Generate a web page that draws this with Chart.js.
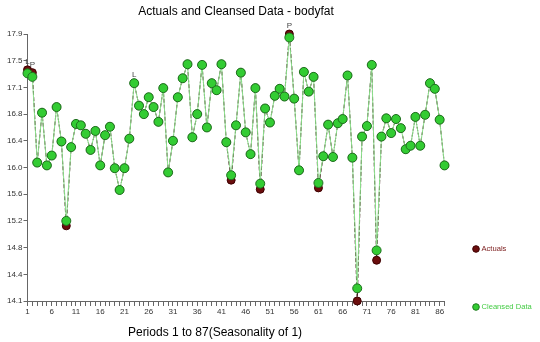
<!DOCTYPE html>
<html>
<head>
<meta charset="utf-8">
<script src="https://cdn.jsdelivr.net/npm/chart.js@4.4.1/dist/chart.umd.min.js"></script>
<style>
  html, body { margin: 0; padding: 0; background: #fff; }
</style>
</head>
<body>
<canvas id="myChart" width="540" height="342"></canvas>
<script>
// periods 1..87
const periods = ['1','2','3','4','5','6','7','8','9','10','11','12','13','14','15','16','17','18','19','20',
  '21','22','23','24','25','26','27','28','29','30','31','32','33','34','35','36','37','38','39','40',
  '41','42','43','44','45','46','47','48','49','50','51','52','53','54','55','56','57','58','59','60',
  '61','62','63','64','65','66','67','68','69','70','71','72','73','74','75','76','77','78','79','80',
  '81','82','83','84','85','86','87'];

const cleansed = [17.34, 17.29, 16.07, 16.78, 16.03, 16.17, 16.86, 16.37, 15.24, 16.29,
  16.62, 16.60, 16.48, 16.25, 16.52, 16.03, 16.46, 16.58, 15.99, 15.68,
  15.99, 16.41, 17.20, 16.88, 16.76, 17.00, 16.86, 16.65, 17.13, 15.93,
  16.38, 17.00, 17.27, 17.47, 16.43, 16.76, 17.46, 16.57, 17.20, 17.10,
  17.47, 16.36, 15.89, 16.60, 17.35, 16.50, 16.19, 17.13, 15.77, 16.84,
  16.64, 17.02, 17.12, 17.01, 17.85, 16.98, 15.96, 17.36, 17.08, 17.29,
  15.78, 16.16, 16.61, 16.15, 16.63, 16.69, 17.31, 16.14, 14.28, 16.44,
  16.59, 17.46, 14.82, 16.44, 16.70, 16.49, 16.69, 16.56, 16.26, 16.31,
  16.72, 16.31, 16.75, 17.20, 17.12, 16.68, 16.03];

const actuals = [17.39, 17.35, 16.07, 16.78, 16.03, 16.17, 16.86, 16.37, 15.17, 16.29,
  16.62, 16.60, 16.48, 16.25, 16.52, 16.03, 16.46, 16.58, 15.99, 15.68,
  15.99, 16.41, 17.20, 16.88, 16.76, 17.00, 16.86, 16.65, 17.13, 15.93,
  16.38, 17.00, 17.27, 17.47, 16.43, 16.76, 17.46, 16.57, 17.20, 17.10,
  17.47, 16.36, 15.82, 16.60, 17.35, 16.50, 16.19, 17.13, 15.69, 16.84,
  16.64, 17.02, 17.12, 17.01, 17.90, 16.98, 15.96, 17.36, 17.08, 17.29,
  15.71, 16.16, 16.61, 16.15, 16.63, 16.69, 17.31, 16.14, 14.10, 16.44,
  16.59, 17.46, 14.68, 16.44, 16.70, 16.49, 16.69, 16.56, 16.26, 16.31,
  16.72, 16.31, 16.75, 17.20, 17.12, 16.68, 16.03];

// y axis: 11 evenly spaced ticks, labels as printed on the original
const yMin = 14.1, yMax = 17.9;
const yTickLabels = ['14.1','14.4','14.8','15.2','15.6','16.0','16.4','16.8','17.1','17.5','17.9'];

// outlier tags above points
const markPeriods = [1, 2, 23, 55];
const markTags = ['L', 'P', 'L', 'P'];

const FONT = '"Liberation Sans", Arial, sans-serif';

const extras = {
  id: 'extras',
  afterDatasetsDraw(chart) {
    const ctx = chart.ctx;
    const xs = chart.scales.x, ys = chart.scales.y;
    ctx.save();
    // tags
    ctx.font = '8px ' + FONT;
    ctx.fillStyle = '#444';
    ctx.textAlign = 'center';
    ctx.textBaseline = 'bottom';
    markPeriods.forEach((p, k) => {
      const i = p - 1;
      const top = Math.min(ys.getPixelForValue(actuals[i]), ys.getPixelForValue(cleansed[i]));
      ctx.fillText(markTags[k], xs.getPixelForValue(i), top - 4);
    });

    // legend on the right
    const items = [
      { text: 'Actuals', fill: '#6b0d0d', stroke: '#3d0000', color: '#7a1a1a', y: 249 },
      { text: 'Cleansed Data', fill: '#33cc33', stroke: '#1f7a1f', color: '#44cc44', y: 307 }
    ];
    ctx.font = '7.6px ' + FONT;
    ctx.textAlign = 'left';
    ctx.textBaseline = 'middle';
    items.forEach(it => {
      ctx.beginPath();
      ctx.arc(476, it.y, 3.3, 0, Math.PI * 2);
      ctx.fillStyle = it.fill;
      ctx.fill();
      ctx.strokeStyle = it.stroke;
      ctx.lineWidth = 1;
      ctx.stroke();
      ctx.fillStyle = it.color;
      ctx.fillText(it.text, 481.5, it.y);
    });

    // x axis title
    ctx.font = '12px ' + FONT;
    ctx.fillStyle = '#000';
    ctx.textAlign = 'center';
    ctx.fillText('Periods 1 to 87(Seasonality of 1)', 215, 332.5);
    ctx.restore();
  }
};

new Chart(document.getElementById('myChart'), {
  type: 'line',
  data: {
    labels: periods,
    datasets: [
      {
        label: 'Cleansed Data',
        data: cleansed,
        order: 0,
        clip: false,
        borderColor: '#8ce08c',
        borderWidth: 1,
        pointRadius: 4.5,
        pointBackgroundColor: '#33cc33',
        pointBorderColor: '#1f6f1f',
        pointBorderWidth: 1,
        tension: 0
      },
      {
        label: 'Actuals',
        data: actuals,
        order: 1,
        clip: false,
        borderColor: '#3a1010',
        borderDash: [4, 2],
        borderWidth: 1,
        pointRadius: 4,
        pointBackgroundColor: '#6b0d0d',
        pointBorderColor: '#3d0000',
        pointBorderWidth: 1,
        tension: 0
      }
    ]
  },
  options: {
    responsive: false,
    animation: false,
    devicePixelRatio: 1,
    layout: { padding: { left: 0, right: 95.5, top: 0, bottom: 0 } },
    plugins: {
      legend: { display: false },
      tooltip: { enabled: false },
      title: {
        display: true,
        fullSize: false,
        text: 'Actuals and Cleansed Data - bodyfat',
        color: '#000',
        font: { family: FONT, size: 12, weight: 'normal' },
        padding: { top: 4, bottom: 15.6 }
      }
    },
    scales: {
      x: {
        type: 'category',
        offset: false,
        border: { display: true, color: '#666', width: 1 },
        grid: { drawOnChartArea: false, drawTicks: true, tickLength: 5, color: '#666' },
        ticks: {
          autoSkip: false,
          maxRotation: 0,
          padding: 1,
          color: '#333',
          font: { family: FONT, size: 8 },
          callback: (v, i) => (i % 5 === 0 ? periods[i] : '')
        },
        afterFit: s => { s.height = 41; }
      },
      y: {
        min: yMin,
        max: yMax,
        border: { display: true, color: '#666', width: 1 },
        grid: { drawOnChartArea: false, drawTicks: true, tickLength: 4, color: '#666' },
        afterBuildTicks: s => {
          s.ticks = yTickLabels.map((t, i) => ({ value: yMin + (yMax - yMin) * i / (yTickLabels.length - 1) }));
        },
        ticks: {
          padding: 1,
          color: '#333',
          font: { family: FONT, size: 8 },
          callback: (v, i) => yTickLabels[i]
        },
        afterFit: s => { s.width = 27.5; }
      }
    }
  },
  plugins: [extras]
});
</script>
</body>
</html>
